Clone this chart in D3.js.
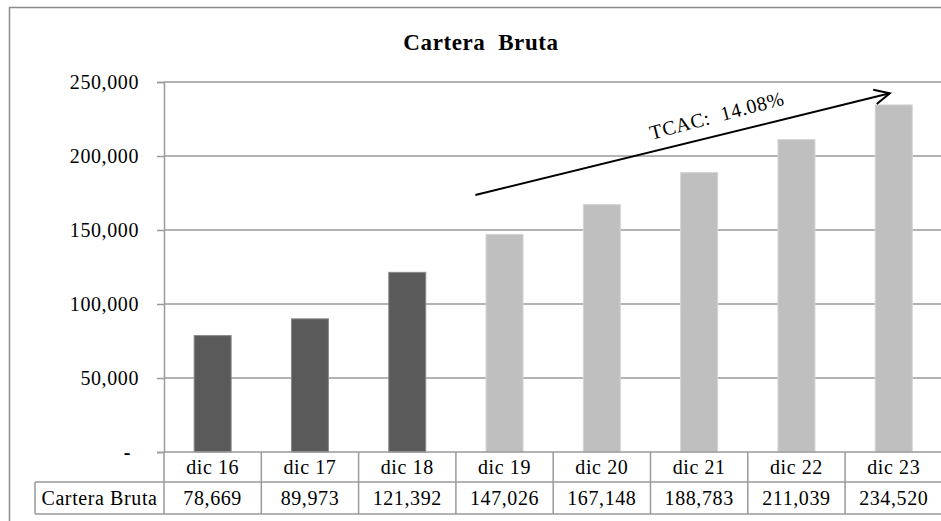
<!DOCTYPE html>
<html>
<head>
<meta charset="utf-8">
<script src="https://cdn.jsdelivr.net/npm/d3@7"></script>
<style>
  body { margin: 0; background: #fff; overflow: hidden; }
  svg { display: block; }
  text { font-family: "Liberation Serif", "Times New Roman", serif; fill: #000; letter-spacing: 0.6px; }
</style>
</head>
<body>
<script>
'use strict';

// chart data
const categories = ["dic 16", "dic 17", "dic 18", "dic 19", "dic 20", "dic 21", "dic 22", "dic 23"];
const values = [78669, 89973, 121392, 147026, 167148, 188783, 211039, 234520];
const projected = [false, false, false, true, true, true, true, true];
const yTicks = [0, 50000, 100000, 150000, 200000, 250000];
const seriesName = "Cartera Bruta";
const chartTitle = "Cartera  Bruta";
const growthLabel = "TCAC:  14.08%";

// arrow annotation in data terms: [category, fraction inside band, value]
const arrowFrom = ["dic 19", 0.2, 173600];
const arrowTo = ["dic 23", 0.46, 242400];
const labelAt = ["dic 21", 0.7, 223000];

(function() {
  const width = 941, height = 521;
  const plotLeft = 164, plotTop = 82, plotBottom = 452;
  const step = 97.3;
  const rowH1 = 30, rowH2 = 32;
  const lineColor = "#9a9a9a";

  const svg = d3.select('body').append('svg')
    .attr('width', width)
    .attr('height', height);

  // outer frame (right and bottom run off the picture)
  svg.append('rect')
    .attr('x', 9.5).attr('y', 7.5)
    .attr('width', 960).attr('height', 540)
    .attr('fill', 'none')
    .attr('stroke', '#8c8c8c')
    .attr('stroke-width', 1.5);

  const x = d3.scaleBand()
    .domain(categories)
    .range([plotLeft, plotLeft + step * categories.length])
    .padding(0);

  const y = d3.scaleLinear()
    .domain([0, 250000])
    .range([plotBottom, plotTop]);

  const fmt = d3.format(",");

  // gridlines
  svg.append('g').selectAll('line')
    .data(yTicks.filter(d => d > 0))
    .enter().append('line')
    .attr('x1', plotLeft).attr('x2', width)
    .attr('y1', d => y(d)).attr('y2', d => y(d))
    .attr('stroke', lineColor).attr('stroke-width', 1.5);

  // y axis
  const yAxis = svg.append('g')
    .attr('transform', `translate(${plotLeft},0)`)
    .call(d3.axisLeft(y).tickValues(yTicks).tickSize(7).tickPadding(18)
      .tickFormat(d => d === 0 ? "-" : fmt(d)));
  yAxis.select('.domain').attr('stroke', lineColor).attr('stroke-width', 1.5);
  yAxis.selectAll('.tick line').attr('stroke', lineColor).attr('stroke-width', 1.5);
  yAxis.selectAll('.tick text')
    .style('font-size', '20px')
    .style('font-family', '"Liberation Serif", serif')
    .attr('fill', '#000');
  yAxis.selectAll('.tick')
    .filter(d => d === 0)
    .select('text').attr('x', -33).style('font-weight', 'bold');

  // bars
  const barW = 37;
  svg.append('g').selectAll('rect')
    .data(categories)
    .enter().append('rect')
    .attr('x', d => x(d) + x.bandwidth() / 2 - barW / 2)
    .attr('y', (d, i) => y(values[i]))
    .attr('width', barW)
    .attr('height', (d, i) => plotBottom - y(values[i]))
    .attr('fill', (d, i) => projected[i] ? '#bfbfbf' : '#5a5a5a')
    .attr('stroke', (d, i) => projected[i] ? '#d4d4d4' : '#8a8a8a')
    .attr('stroke-width', 1);

  // data table under the axis
  const table = svg.append('g');
  const row1Top = plotBottom, row2Top = plotBottom + rowH1, tableBottom = row2Top + rowH2;
  const labelLeft = 35;

  table.append('line')
    .attr('x1', plotLeft).attr('x2', width)
    .attr('y1', row1Top).attr('y2', row1Top)
    .attr('stroke', lineColor).attr('stroke-width', 1.5);
  table.append('line')
    .attr('x1', labelLeft).attr('x2', width)
    .attr('y1', row2Top).attr('y2', row2Top)
    .attr('stroke', lineColor).attr('stroke-width', 1.5);
  table.append('line')
    .attr('x1', labelLeft).attr('x2', width)
    .attr('y1', tableBottom).attr('y2', tableBottom)
    .attr('stroke', lineColor).attr('stroke-width', 1.5);
  table.append('line')
    .attr('x1', labelLeft).attr('x2', labelLeft)
    .attr('y1', row2Top).attr('y2', tableBottom)
    .attr('stroke', lineColor).attr('stroke-width', 1.5);

  table.selectAll('.div')
    .data(categories)
    .enter().append('line')
    .attr('class', 'div')
    .attr('x1', d => x(d)).attr('x2', d => x(d))
    .attr('y1', row1Top).attr('y2', tableBottom)
    .attr('stroke', lineColor).attr('stroke-width', 1.5);

  table.selectAll('.cat')
    .data(categories)
    .enter().append('text')
    .attr('class', 'cat')
    .attr('x', d => x(d) + x.bandwidth() / 2)
    .attr('y', row1Top + 22)
    .attr('text-anchor', 'middle')
    .style('font-size', '20px')
    .text(d => d);

  table.selectAll('.val')
    .data(values)
    .enter().append('text')
    .attr('class', 'val')
    .attr('x', (d, i) => x(categories[i]) + x.bandwidth() / 2)
    .attr('y', row2Top + 23)
    .attr('text-anchor', 'middle')
    .style('font-size', '20px')
    .text(d => fmt(d));

  table.append('text')
    .attr('x', (labelLeft + plotLeft) / 2)
    .attr('y', row2Top + 23)
    .attr('text-anchor', 'middle')
    .style('font-size', '20px')
    .text(seriesName);

  // title
  svg.append('text')
    .attr('x', 481)
    .attr('y', 50)
    .attr('text-anchor', 'middle')
    .style('font-size', '23px')
    .style('font-weight', 'bold')
    .style('white-space', 'pre')
    .text(chartTitle);

  // growth arrow
  const px = p => x(p[0]) + p[1] * x.bandwidth();
  const x1 = px(arrowFrom), y1 = y(arrowFrom[2]);
  const x2 = px(arrowTo), y2 = y(arrowTo[2]);
  const ang = Math.atan2(y2 - y1, x2 - x1);
  const headLen = 17, headAng = 0.45;

  svg.append('line')
    .attr('x1', x1).attr('y1', y1)
    .attr('x2', x2).attr('y2', y2)
    .attr('stroke', '#000').attr('stroke-width', 2);
  svg.append('path')
    .attr('d', `M${x2 - headLen * Math.cos(ang - headAng)},${y2 - headLen * Math.sin(ang - headAng)}`
      + `L${x2},${y2}`
      + `L${x2 - headLen * Math.cos(ang + headAng)},${y2 - headLen * Math.sin(ang + headAng)}`)
    .attr('fill', 'none')
    .attr('stroke', '#000').attr('stroke-width', 2);

  const lx = px(labelAt), ly = y(labelAt[2]);
  svg.append('text')
    .attr('transform', `translate(${lx},${ly})rotate(${ang * 180 / Math.PI - 1})`)
    .attr('text-anchor', 'middle')
    .style('font-size', '20px')
    .style('white-space', 'pre')
    .text(growthLabel);
})();
</script>
</body>
</html>
